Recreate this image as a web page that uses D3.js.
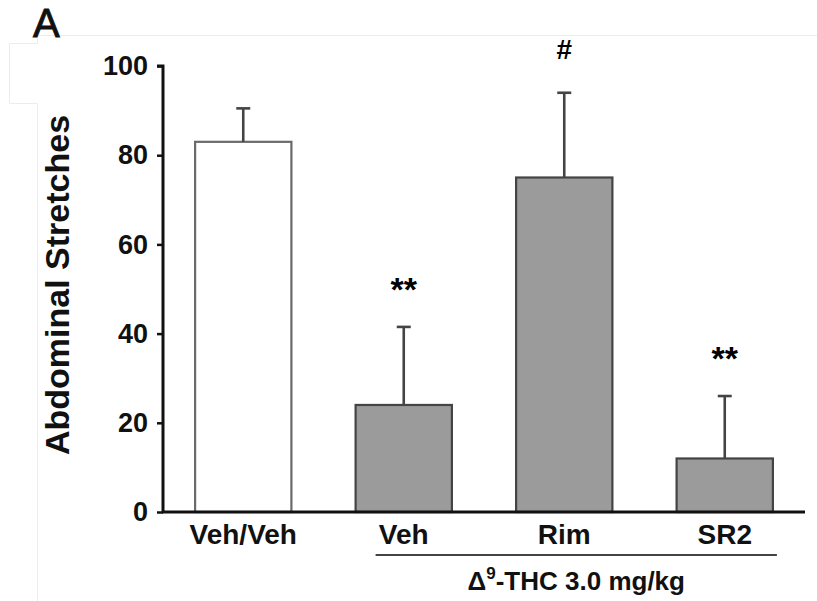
<!DOCTYPE html>
<html>
<head>
<meta charset="utf-8">
<script src="https://cdn.jsdelivr.net/npm/d3@7"></script>
<style>
  html, body { margin: 0; padding: 0; background: #fff; }
  svg { display: block; }
  text { font-family: "Liberation Sans", Arial, Helvetica, sans-serif; }
</style>
</head>
<body>
<script>
// Abdominal stretches per treatment group (mean and SEM)
const categories = ["Veh/Veh", "Veh", "Rim", "SR2"];
const means = [83, 24, 75, 12];
const errors = [7.5, 17.5, 19, 14];
const marks = ["", "**", "#", "**"];
const fills = ["#ffffff", "#9b9b9b", "#9b9b9b", "#9b9b9b"];
const yTicks = [0, 20, 40, 60, 80, 100];

const W = 817, H = 601;
const plot = { left: 163, right: 805, top: 66, bottom: 512 };

const svg = d3.select("body").append("svg")
  .attr("width", W).attr("height", H);

// faint frame lines around the panel
svg.append("path")
  .attr("d", "M817,35.5H37.5V43.5H9.5V103.5H37.5V601")
  .attr("fill", "none").attr("stroke", "#ececec").attr("stroke-width", 1);

const x = d3.scaleBand()
  .domain(categories)
  .range([plot.left, plot.right])
  .paddingInner(0.4)
  .paddingOuter(0.2);

const y = d3.scaleLinear()
  .domain([0, 100])
  .range([plot.bottom, plot.top]);

// bars
svg.append("g").selectAll("rect")
  .data(categories)
  .join("rect")
  .attr("x", d => x(d))
  .attr("width", x.bandwidth())
  .attr("y", (d, i) => y(means[i]))
  .attr("height", (d, i) => y(0) - y(means[i]))
  .attr("fill", (d, i) => fills[i])
  .attr("stroke", (d, i) => i === 0 ? "#6a6a6a" : "#444")
  .attr("stroke-width", 2.2);

// error bars (upper only)
const eb = svg.append("g").attr("stroke", "#444").attr("stroke-width", 2.6);
categories.forEach((c, i) => {
  const cx = x(c) + x.bandwidth() / 2;
  eb.append("line")
    .attr("x1", cx).attr("x2", cx)
    .attr("y1", y(means[i])).attr("y2", y(means[i] + errors[i]));
  eb.append("line")
    .attr("x1", cx - 7).attr("x2", cx + 7)
    .attr("y1", y(means[i] + errors[i])).attr("y2", y(means[i] + errors[i]));
});

// significance marks
svg.append("g").selectAll("text")
  .data(categories)
  .join("text")
  .attr("x", d => x(d) + x.bandwidth() / 2)
  .attr("y", (d, i) => y(means[i] + errors[i]) - (marks[i] === "#" ? 34 : 26))
  .attr("text-anchor", "middle")
  .attr("font-weight", "bold")
  .attr("font-size", (d, i) => marks[i] === "#" ? 28 : 34)
  .text((d, i) => marks[i]);

// y axis
const yAxis = d3.axisLeft(y).tickValues(yTicks).tickSize(6).tickPadding(9);
const gy = svg.append("g")
  .attr("transform", `translate(${plot.left},0)`)
  .call(yAxis);
gy.select(".domain").attr("stroke", "#111").attr("stroke-width", 3)
  .attr("d", `M-6,${y(100)}H0V${y(0)}`);
gy.selectAll(".tick line").attr("stroke", "#111").attr("stroke-width", 2.5);
gy.selectAll(".tick text")
  .attr("font-size", 27).attr("font-weight", "bold").attr("fill", "#111");

// x axis
const xAxis = d3.axisBottom(x).tickSize(0).tickPadding(12);
const gx = svg.append("g")
  .attr("transform", `translate(0,${plot.bottom})`)
  .call(xAxis);
gx.select(".domain").attr("stroke", "#111").attr("stroke-width", 3)
  .attr("d", `M${plot.left - 1},0H${plot.right}`);
gx.selectAll(".tick text")
  .attr("font-size", 28).attr("font-weight", "bold").attr("fill", "#111");

// grouping line under the THC-treated groups
const gStart = x("Veh") + 20, gEnd = x("SR2") + x.bandwidth() + 4;
svg.append("line")
  .attr("x1", gStart).attr("x2", gEnd)
  .attr("y1", plot.bottom + 43).attr("y2", plot.bottom + 43)
  .attr("stroke", "#444").attr("stroke-width", 2.2);

const grp = svg.append("text")
  .attr("x", (gStart + gEnd) / 2)
  .attr("y", plot.bottom + 78)
  .attr("text-anchor", "middle")
  .attr("font-size", 26).attr("font-weight", "bold").attr("fill", "#111");
grp.append("tspan").text("Δ");
grp.append("tspan").attr("font-size", 17).attr("dy", -11).text("9");
grp.append("tspan").attr("dy", 11).text("-THC 3.0 mg/kg");

// y axis title
svg.append("text")
  .attr("transform", `translate(69,${(plot.top + plot.bottom) / 2 - 4}) rotate(-90)`)
  .attr("text-anchor", "middle")
  .attr("font-size", 34).attr("font-weight", "bold").attr("fill", "#111")
  .text("Abdominal Stretches");

// panel letter
svg.append("text")
  .attr("x", 33).attr("y", 37)
  .attr("font-size", 40).attr("fill", "#111")
  .attr("stroke", "#111").attr("stroke-width", 0.9)
  .text("A");
</script>
</body>
</html>
